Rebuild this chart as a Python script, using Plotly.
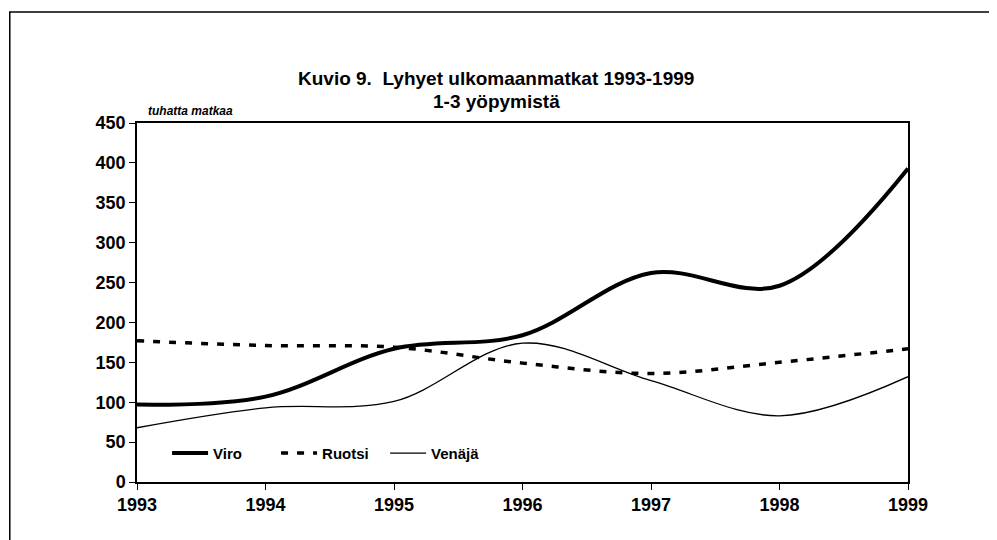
import plotly.graph_objects as go

years = [1993, 1994, 1995, 1996, 1997, 1998, 1999]
viro = [97, 107, 167, 184, 262, 246, 393]
ruotsi = [177, 171, 169, 149, 136, 150, 167]
venaja = [68, 93, 101, 174, 127, 83, 132]
y_ticks = [0, 50, 100, 150, 200, 250, 300, 350, 400, 450]

FONT = "Liberation Sans Narrow, Liberation Sans, Arial, sans-serif"

# page offset of 8px (body margin): figure coords = page coords - 8
fig = go.Figure()
fig.add_trace(go.Scatter(x=years, y=viro, name="Viro", mode="lines",
                         line=dict(color="black", width=4, shape="spline", smoothing=1)))
fig.add_trace(go.Scatter(x=years, y=ruotsi, name="Ruotsi", mode="lines",
                         line=dict(color="black", width=3.5, shape="spline", smoothing=1, dash="7px,9px")))
fig.add_trace(go.Scatter(x=years, y=venaja, name="Venäjä", mode="lines",
                         line=dict(color="black", width=1.3, shape="spline", smoothing=1)))

fig.update_layout(
    width=989, height=532,
    margin=dict(l=129, r=89, t=115, b=58),
    paper_bgcolor="white", plot_bgcolor="white",
    font=dict(family=FONT, color="black", size=16),
    showlegend=True,
    legend=dict(orientation="h", x=0.039, y=0.08, xanchor="left", yanchor="middle",
                bgcolor="rgba(0,0,0,0)", font=dict(size=15, family=FONT, weight="bold"),
                itemwidth=36, entrywidth=58, entrywidthmode="pixels"),
    xaxis=dict(range=[1993, 1999], tickmode="array", tickvals=years,
               ticktext=[f"<b>{y}</b>" for y in years],
               showgrid=False, showline=True, linecolor="black", linewidth=1.5,
               mirror=True, ticks="outside", ticklen=6, tickcolor="black",
               tickfont=dict(size=18, family=FONT), zeroline=False),
    yaxis=dict(range=[0, 450], tickmode="array", tickvals=y_ticks,
               ticktext=[f"<b>{v}</b>" for v in y_ticks],
               showgrid=False, showline=True, linecolor="black", linewidth=1.5,
               mirror=True, ticks="outside", ticklen=6, tickcolor="black",
               tickfont=dict(size=18, family=FONT), zeroline=False),
)

fig.add_annotation(text="<b>Kuvio 9.  Lyhyet ulkomaanmatkat 1993-1999</b>", xref="paper", yref="paper",
                   x=0.466, y=1.1226, yanchor="middle", showarrow=False, font=dict(size=19, family=FONT))
fig.add_annotation(text="<b>1-3 yöpymistä</b>", xref="paper", yref="paper",
                   x=0.466, y=1.0585, yanchor="middle", showarrow=False, font=dict(size=19, family=FONT))
fig.add_annotation(text="<b><i>tuhatta matkaa</i></b>", xref="paper", yref="paper",
                   x=0.012, y=1.033, xanchor="left", yanchor="middle", showarrow=False,
                   font=dict(size=12, family=FONT))

fig.add_shape(type="rect", xref="paper", yref="paper",
              x0=-0.165, x1=1.14, y0=-0.2, y1=1.3092,
              line=dict(color="black", width=1.5))

fig.write_html("out.html")
